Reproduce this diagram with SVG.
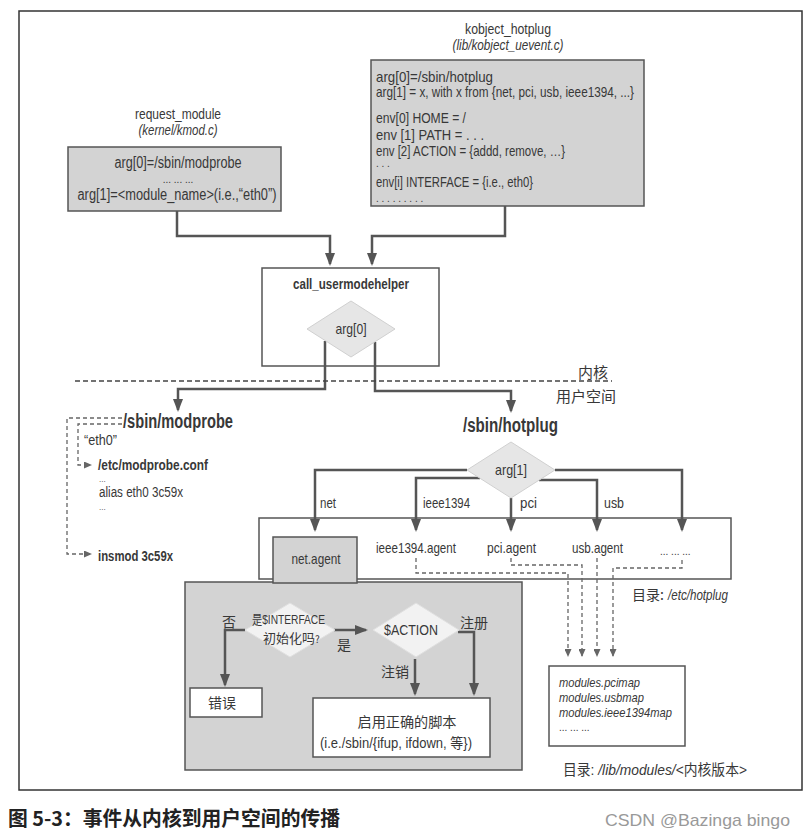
<svg xmlns="http://www.w3.org/2000/svg" width="806" height="838" viewBox="0 0 806 838">
<defs>
<style>
.t{font-family:"Liberation Sans Narrow","Liberation Sans","Noto Sans CJK SC",sans-serif;fill:#383838;font-size:15px}
.c{font-family:"Noto Sans CJK SC",sans-serif;fill:#383838;font-size:14px}
.b{font-weight:bold}
.i{font-style:italic}
.m{text-anchor:middle}
.d{font-size:10px}
.k{font-size:14.5px}
.box{fill:#d3d3d3;stroke:#555;stroke-width:1.5}
.wbox{fill:#fff;stroke:#555;stroke-width:1.5}
.dia{fill:#e6e6e6;stroke:#d0d0d0;stroke-width:1}
.dia2{fill:#f2f2f2;stroke:#e0e0e0;stroke-width:1}
.conn{fill:none;stroke:#555;stroke-width:2.5}
.dash{fill:none;stroke:#666;stroke-width:1.3;stroke-dasharray:4 3}
</style>
<marker id="ah" viewBox="0 0 13 10" markerWidth="13" markerHeight="10" refX="11" refY="5" orient="auto" markerUnits="userSpaceOnUse"><path d="M0,0 L13,5 L0,10 z" fill="#555"/></marker>
<marker id="as" viewBox="0 0 8 7" markerWidth="8" markerHeight="7" refX="7" refY="3.5" orient="auto" markerUnits="userSpaceOnUse"><path d="M0,0 L8,3.5 L0,7 z" fill="#666"/></marker>
</defs>
<rect width="806" height="838" fill="#fff"/>
<rect x="19" y="11" width="783" height="779" fill="none" stroke="#333" stroke-width="1.5"/>

<!-- containers -->
<g id="call_usermodehelper">
<rect class="wbox" x="262" y="268" width="177" height="98"/>
<text class="t b m" x="351" y="289" textLength="116" lengthAdjust="spacingAndGlyphs">call_usermodehelper</text>
</g>
<g id="etc_hotplug">
<rect x="259" y="518" width="472" height="61" fill="none" stroke="#555" stroke-width="1.5"/>
<text class="c" x="632" y="600">目录:</text>
<text class="t i" x="668" y="600" textLength="60" lengthAdjust="spacingAndGlyphs">/etc/hotplug</text>
</g>
<g id="net_agent_flow">
<rect class="box" x="185" y="582" width="337" height="188"/>
</g>

<g id="connectors">
<path class="conn" d="M177,211 V236 H330 V264" marker-end="url(#ah)"/>
<path class="conn" d="M505,206 V236 H372 V264" marker-end="url(#ah)"/>
<path class="conn" d="M325,341 V389 H178 V410" marker-end="url(#ah)"/>
<path class="conn" d="M375,342 V391 H511 V411" marker-end="url(#ah)"/>
<path d="M75,381 H612" fill="none" stroke="#444" stroke-width="1.5" stroke-dasharray="5 3"/>
<path class="conn" d="M467,470 H315 V530" marker-end="url(#ah)"/>
<path class="conn" d="M480,478 H416 V530" marker-end="url(#ah)"/>
<path class="conn" d="M511,498 V530" marker-end="url(#ah)"/>
<path class="conn" d="M539,480 H597 V530" marker-end="url(#ah)"/>
<path class="conn" d="M555,470 H682 V530" marker-end="url(#ah)"/>
<path class="dash" d="M416,558 V573 H568 V656" marker-end="url(#as)"/>
<path class="dash" d="M511,558 V565 H582 V656" marker-end="url(#as)"/>
<path class="dash" d="M597,558 V656" marker-end="url(#as)"/>
<path class="dash" d="M682,560 V568 H613 V656" marker-end="url(#as)"/>
<path class="dash" d="M122,418 H67 V554 H91" marker-end="url(#as)"/>
<path class="dash" d="M122,424 H78 V465 H91" marker-end="url(#as)"/>
<path class="conn" d="M245,630 H225 V685" marker-end="url(#ah)"/>
<path class="conn" d="M334,630 H366" marker-end="url(#ah)"/>
<path class="conn" d="M415,659 V694" marker-end="url(#ah)"/>
<path class="conn" d="M458,632 H474 V694" marker-end="url(#ah)"/>
</g>

<g id="request_module">
<text class="t m" x="178" y="119" textLength="86" lengthAdjust="spacingAndGlyphs">request_module</text>
<text class="t i m" x="178" y="135" textLength="79" lengthAdjust="spacingAndGlyphs">(kernel/kmod.c)</text>
<rect class="box" x="68" y="147" width="213" height="64"/>
<text class="t m" x="178" y="168" style="font-size:16px" textLength="127" lengthAdjust="spacingAndGlyphs">arg[0]=/sbin/modprobe</text>
<text class="t m d" x="178" y="183">...  ...  ...</text>
<text class="t m" x="177" y="200" style="font-size:16px" textLength="199" lengthAdjust="spacingAndGlyphs">arg[1]=&lt;module_name&gt;(i.e.,“eth0”)</text>
</g>

<g id="kobject_hotplug">
<text class="t m" x="508" y="34" textLength="86" lengthAdjust="spacingAndGlyphs">kobject_hotplug</text>
<text class="t i m" x="508" y="50" textLength="111" lengthAdjust="spacingAndGlyphs">(lib/kobject_uevent.c)</text>
<rect class="box" x="371" y="60" width="273" height="146"/>
<text class="t k" x="376" y="82" textLength="117" lengthAdjust="spacingAndGlyphs">arg[0]=/sbin/hotplug</text>
<text class="t k" x="376" y="97" textLength="258" lengthAdjust="spacingAndGlyphs">arg[1] = x, with x from {net, pci, usb, ieee1394, ...}</text>
<text class="t k" x="376" y="123" textLength="90" lengthAdjust="spacingAndGlyphs">env[0] HOME = /</text>
<text class="t k" x="376" y="140" textLength="108" lengthAdjust="spacingAndGlyphs">env [1] PATH = .  .  .</text>
<text class="t k" x="376" y="156" textLength="189" lengthAdjust="spacingAndGlyphs">env [2] ACTION = {addd, remove, …}</text>
<text class="t d" x="376" y="167">. . .</text>
<text class="t k" x="376" y="187" textLength="157" lengthAdjust="spacingAndGlyphs">env[i] INTERFACE = {i.e., eth0}</text>
<text class="t d" x="376" y="202">. . .   . . .   . . .</text>
</g>

<g id="arg0">
<polygon class="dia" points="351,301 395,329 351,357 307,329"/>
<text class="t m" x="351" y="334" textLength="31" lengthAdjust="spacingAndGlyphs">arg[0]</text>
</g>

<g id="boundary_labels">
<text class="c" x="578" y="378" style="font-size:15px">内核</text>
<text class="c" x="556" y="402" style="font-size:15px">用户空间</text>
</g>

<g id="sbin_modprobe">
<text class="t b" x="123" y="428" style="font-size:20px" textLength="110" lengthAdjust="spacingAndGlyphs">/sbin/modprobe</text>
<text class="t" x="84" y="445" style="font-size:14px" textLength="33" lengthAdjust="spacingAndGlyphs">“eth0”</text>
<text class="t b" x="98" y="470" textLength="110" lengthAdjust="spacingAndGlyphs">/etc/modprobe.conf</text>
<text class="t" x="99" y="482" style="font-size:8px">...</text>
<text class="t" x="99" y="497" style="font-size:14px" textLength="84" lengthAdjust="spacingAndGlyphs">alias eth0  3c59x</text>
<text class="t" x="99" y="510" style="font-size:8px">...</text>
<text class="t b" x="98" y="561" textLength="75" lengthAdjust="spacingAndGlyphs">insmod 3c59x</text>
</g>

<g id="sbin_hotplug">
<text class="t b" x="463" y="432" style="font-size:20px" textLength="95" lengthAdjust="spacingAndGlyphs">/sbin/hotplug</text>
</g>

<g id="arg1">
<polygon class="dia" points="511,442 555,470 511,498 467,470"/>
<text class="t m" x="511" y="475" textLength="32" lengthAdjust="spacingAndGlyphs">arg[1]</text>
<text class="t" x="320" y="508" textLength="16" lengthAdjust="spacingAndGlyphs">net</text>
<text class="t" x="423" y="508" textLength="47" lengthAdjust="spacingAndGlyphs">ieee1394</text>
<text class="t" x="520" y="508" textLength="17" lengthAdjust="spacingAndGlyphs">pci</text>
<text class="t" x="604" y="508" textLength="20" lengthAdjust="spacingAndGlyphs">usb</text>
</g>

<g id="net_agent">
<rect class="box" x="273" y="537" width="84" height="46"/>
<text class="t m" x="316" y="564" textLength="49" lengthAdjust="spacingAndGlyphs">net.agent</text>
</g>
<g id="ieee1394_agent"><text class="t" x="376" y="553" textLength="80" lengthAdjust="spacingAndGlyphs">ieee1394.agent</text></g>
<g id="pci_agent"><text class="t" x="487" y="553" textLength="49" lengthAdjust="spacingAndGlyphs">pci.agent</text></g>
<g id="usb_agent"><text class="t" x="572" y="553" textLength="51" lengthAdjust="spacingAndGlyphs">usb.agent</text></g>
<g id="other_agents"><text class="t d" x="660" y="555">...  ...  ...</text></g>

<g id="interface_check">
<polygon class="dia2" points="290,603 335,630 290,657 245,630"/>
<text class="t" x="252" y="624" style="font-size:13px" textLength="73" lengthAdjust="spacingAndGlyphs">是$INTERFACE</text>
<text class="c" x="263" y="643" style="font-size:13px">初始化吗<tspan style="font-size:10px">?</tspan></text>
<text class="c" x="222" y="627">否</text>
<text class="c" x="337" y="650">是</text>
</g>
<g id="action">
<polygon class="dia2" points="416,603 459,630 416,657 373,630"/>
<text class="t m" x="411" y="635" textLength="54" lengthAdjust="spacingAndGlyphs">$ACTION</text>
<text class="c" x="460" y="628">注册</text>
<text class="c" x="381" y="677">注销</text>
</g>
<g id="error">
<rect class="wbox" x="190" y="688" width="72" height="29"/>
<text class="c m" x="222" y="708">错误</text>
</g>
<g id="script">
<rect class="wbox" x="313" y="698" width="177" height="59"/>
<text class="c m" x="407" y="727" textLength="99" lengthAdjust="spacingAndGlyphs">启用正确的脚本</text>
<text class="t m" x="396" y="748" style="font-size:14px" textLength="152" lengthAdjust="spacingAndGlyphs">(i.e./sbin/{ifup, ifdown, 等})</text>
</g>

<g id="lib_modules">
<rect class="wbox" x="549" y="666" width="136" height="80"/>
<text class="t i" x="559" y="687" style="font-size:13px" textLength="81" lengthAdjust="spacingAndGlyphs">modules.pcimap</text>
<text class="t i" x="559" y="702" style="font-size:13px" textLength="85" lengthAdjust="spacingAndGlyphs">modules.usbmap</text>
<text class="t i" x="559" y="717" style="font-size:13px" textLength="113" lengthAdjust="spacingAndGlyphs">modules.ieee1394map</text>
<text class="t d" x="559" y="731">...  ...  ...</text>
<text class="t" x="563" y="775" textLength="184" lengthAdjust="spacingAndGlyphs">目录: <tspan class="i">/lib/modules/</tspan>&lt;内核版本&gt;</text>
</g>

<g id="caption">
<text x="8" y="826" font-family="'Noto Sans CJK SC',sans-serif" font-weight="bold" font-size="20" fill="#222" textLength="332" lengthAdjust="spacingAndGlyphs">图 5-3：事件从内核到用户空间的传播</text>
<text x="605" y="826" font-family="'Liberation Sans Narrow','Liberation Sans',sans-serif" font-size="17" fill="#999" textLength="185" lengthAdjust="spacingAndGlyphs">CSDN @Bazinga bingo</text>
</g>
</svg>
